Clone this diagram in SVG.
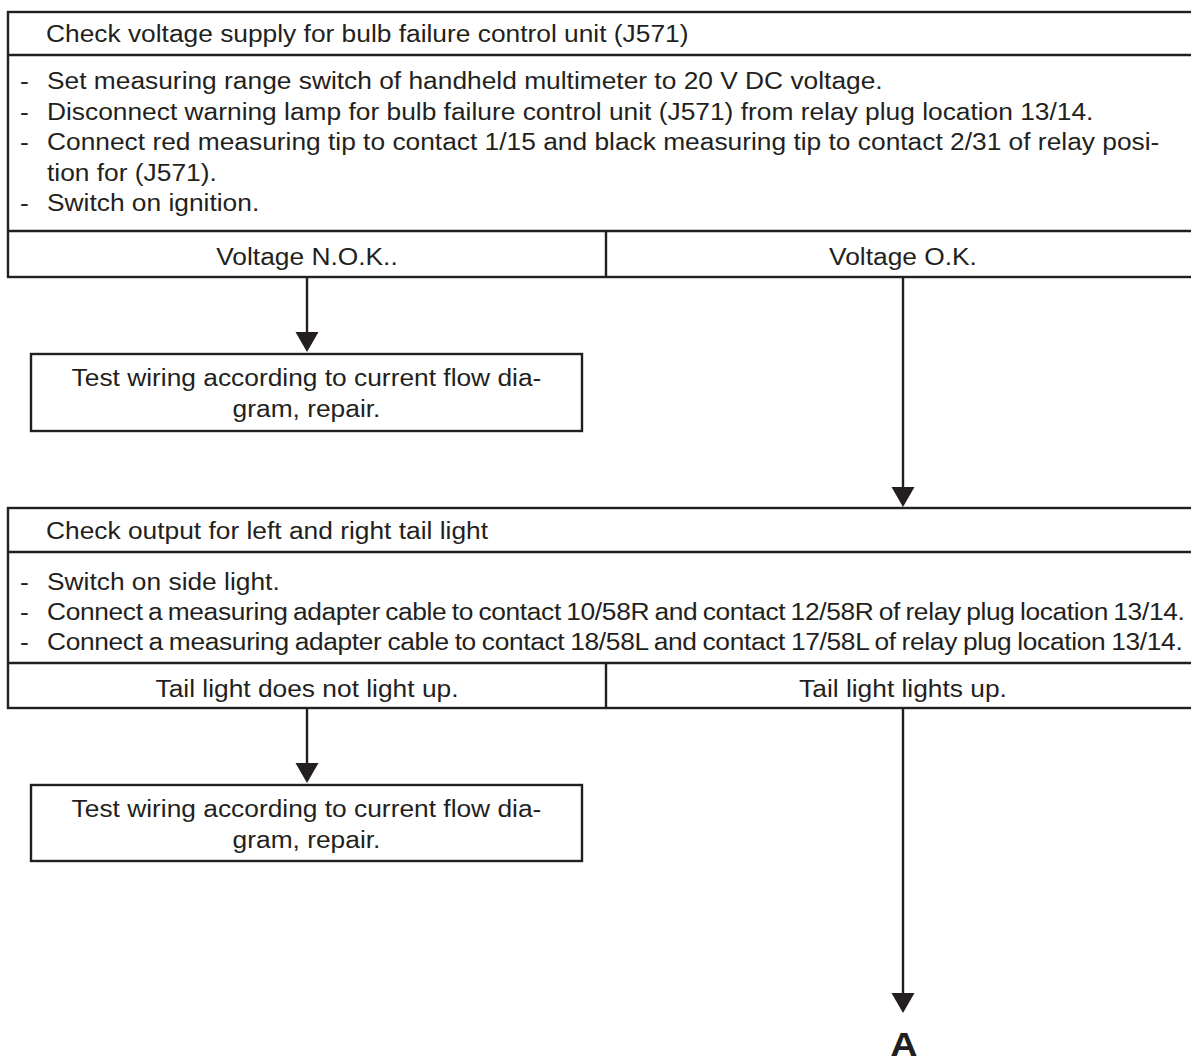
<svg xmlns="http://www.w3.org/2000/svg" width="1191" height="1063" viewBox="0 0 1191 1063">
<style>
.box{fill:#fff;stroke:#231f20;stroke-width:2.4}
.ln{stroke:#231f20;stroke-width:2.4;fill:none}
.t{font-family:"Liberation Sans",Arial,Helvetica,sans-serif;font-size:23px;fill:#231f20}
.c{text-anchor:middle}
.condR{letter-spacing:-0.3px;word-spacing:-1.4px}
.condL{letter-spacing:-0.3px;word-spacing:-0.9px}
.big{font-family:"Liberation Sans",Arial,Helvetica,sans-serif;font-size:33px;font-weight:bold;fill:#231f20;text-anchor:middle}
</style>
<defs>
<marker id="arrow" markerUnits="userSpaceOnUse" orient="auto" viewBox="0 -12 22 24" refX="10" refY="0" markerWidth="22" markerHeight="24">
<path d="M0,-11.5 L20,0 L0,11.5 Z" fill="#231f20"/>
</marker>
</defs>
<rect width="1191" height="1063" fill="#fff"/>

<g id="node-check-voltage">
<rect class="box" x="8" y="12" width="1200" height="265"/>
<line class="ln" x1="8" y1="55" x2="1208" y2="55"/>
<line class="ln" x1="8" y1="231" x2="1208" y2="231"/>
<line class="ln" x1="606" y1="231" x2="606" y2="277"/>
<g transform="scale(1.145 1)">
<text class="t" x="40.17" y="42">Check voltage supply for bulb failure control unit (J571)</text>
<text class="t" x="17.47" y="89.5">-</text>
<text class="t" x="41.05" y="89.5">Set measuring range switch of handheld multimeter to 20 V DC voltage.</text>
<text class="t" x="17.47" y="120">-</text>
<text class="t" x="41.05" y="120">Disconnect warning lamp for bulb failure control unit (J571) from relay plug location 13/14.</text>
<text class="t" x="17.47" y="150.5">-</text>
<text class="t" x="41.05" y="150.5">Connect red measuring tip to contact 1/15 and black measuring tip to contact 2/31 of relay posi-</text>
<text class="t" x="41.05" y="181">tion for (J571).</text>
<text class="t" x="17.47" y="211.5">-</text>
<text class="t" x="41.05" y="211.5">Switch on ignition.</text>
<text class="t c" x="268.12" y="265">Voltage N.O.K..</text>
<text class="t c" x="788.65" y="265">Voltage O.K.</text>
</g>
</g>

<g id="node-repair-1">
<rect class="box" x="31" y="354" width="551" height="77"/>
<g transform="scale(1.145 1)">
<text class="t c" x="267.69" y="386">Test wiring according to current flow dia-</text>
<text class="t c" x="267.69" y="417">gram, repair.</text>
</g>
</g>

<g id="node-check-output">
<rect class="box" x="8" y="508" width="1200" height="200"/>
<line class="ln" x1="8" y1="552" x2="1208" y2="552"/>
<line class="ln" x1="8" y1="663" x2="1208" y2="663"/>
<line class="ln" x1="606" y1="663" x2="606" y2="708"/>
<g transform="scale(1.145 1)">
<text class="t" x="40.17" y="539">Check output for left and right tail light</text>
<text class="t" x="17.47" y="590">-</text>
<text class="t" x="41.05" y="590">Switch on side light.</text>
<text class="t" x="17.47" y="620">-</text>
<text class="t condR" x="41.05" y="620">Connect a measuring adapter cable to contact 10/58R and contact 12/58R of relay plug location 13/14.</text>
<text class="t" x="17.47" y="650">-</text>
<text class="t condL" x="41.05" y="650">Connect a measuring adapter cable to contact 18/58L and contact 17/58L of relay plug location 13/14.</text>
<text class="t c" x="268.12" y="697">Tail light does not light up.</text>
<text class="t c" x="788.65" y="697">Tail light lights up.</text>
</g>
</g>

<g id="node-repair-2">
<rect class="box" x="31" y="785" width="551" height="76"/>
<g transform="scale(1.145 1)">
<text class="t c" x="267.69" y="817">Test wiring according to current flow dia-</text>
<text class="t c" x="267.69" y="848">gram, repair.</text>
</g>
</g>

<g id="node-A">
<g transform="scale(1.145 1)">
<text class="big" x="789.52" y="1056">A</text>
</g>
</g>

<g id="connectors">
<line class="ln" x1="307" y1="277" x2="307" y2="342" marker-end="url(#arrow)"/>
<line class="ln" x1="903" y1="277" x2="903" y2="497" marker-end="url(#arrow)"/>
<line class="ln" x1="307" y1="708" x2="307" y2="773" marker-end="url(#arrow)"/>
<line class="ln" x1="903" y1="708" x2="903" y2="1003" marker-end="url(#arrow)"/>
</g>
</svg>
